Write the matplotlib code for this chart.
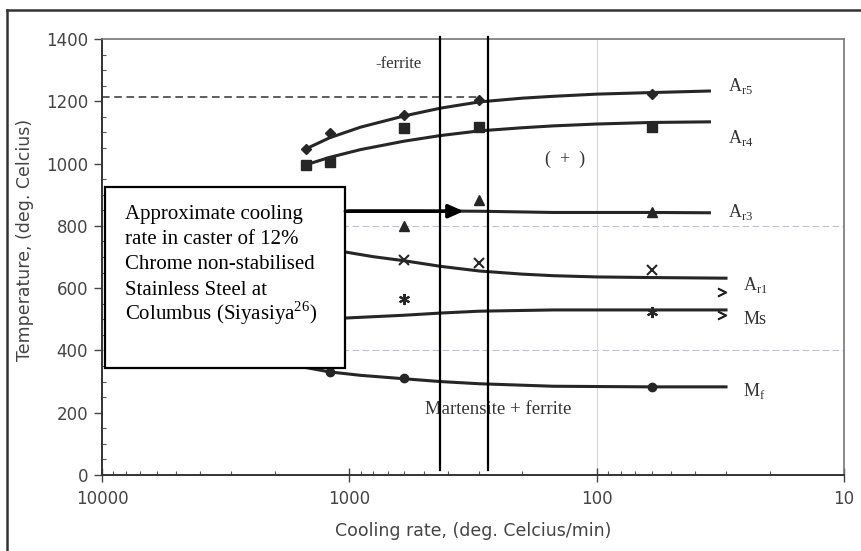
import matplotlib as mpl
mpl.use('Agg')
import matplotlib.pyplot as plt
import matplotlib.ticker as tk
from matplotlib.lines import Line2D
from matplotlib.patches import Rectangle

plt.rcParams['mathtext.fontset'] = 'custom'
plt.rcParams['mathtext.rm'] = 'Liberation Serif'

# transformation curves (cooling rate deg C/min -> temperature deg C)
ar5_rate = [1500, 1200, 900, 600, 428, 298, 200, 150, 100, 60, 35]
ar5_temp = [1047, 1083, 1117, 1153, 1178, 1198, 1210, 1216, 1223, 1228, 1233]
ar4_rate = [1500, 1200, 900, 600, 428, 298, 200, 150, 100, 60, 35]
ar4_temp = [996, 1020, 1045, 1072, 1090, 1105, 1115, 1121, 1127, 1132, 1134]
ar3_rate = [1000, 600, 300, 150, 60, 35]
ar3_temp = [848, 848, 847, 843, 843, 842]
ar1_rate = [1500, 1038, 800, 600, 428, 298, 200, 150, 100, 60, 30]
ar1_temp = [780, 716, 701, 688, 670, 655, 645, 640, 636, 634, 632]
ms_rate = [1500, 1038, 600, 428, 298, 150, 60, 30]
ms_temp = [498, 504, 513, 520, 526, 530, 530, 530]
mf_rate = [1500, 1200, 900, 600, 428, 298, 150, 60, 30]
mf_temp = [345, 331, 320, 309, 300, 293, 285, 283, 283]

# measured points
ar5_pts_rate = [1500, 1200, 600, 298, 60]
ar5_pts_temp = [1047, 1098, 1156, 1204, 1224]
ar4_pts_rate = [1500, 1200, 600, 298, 60]
ar4_pts_temp = [996, 1005, 1115, 1118, 1118]
ar3_pts_rate = [600, 298, 60]
ar3_pts_temp = [800, 883, 845]
ar1_pts_rate = [600, 298, 60]
ar1_pts_temp = [690, 680, 658]
ms_pts_rate = [600, 60]
ms_pts_temp = [565, 523]
mf_pts_rate = [1200, 600, 60]
mf_pts_temp = [331, 311, 283]
tail_rate = [31, 31]
tail_temp = [588, 515]

caster_rates = [428, 274]
delta_ferrite_temp = 1214
delta_ferrite_end = 298
arrow_start = 1038
arrow_end = 345
arrow_temp = 847

curve_labels = [r'A$_{\mathrm{r5}}$', r'A$_{\mathrm{r4}}$', r'A$_{\mathrm{r3}}$',
                r'A$_{\mathrm{r1}}$', 'Ms', r'M$_{\mathrm{f}}$']
label_rate = [29.5, 29.5, 29.5, 25.5, 25.5, 25.5]
label_temp = [1250, 1082, 843, 610, 500, 270]

box_lines = ['Approximate cooling', 'rate in caster of 12%', 'Chrome non-stabilised',
             'Stainless Steel at', 'Columbus (Siyasiya$^{\\mathrm{26}}$)']

fig = plt.figure(figsize=(8.61, 5.51), dpi=100)
ax = fig.add_axes([102/861, 76/551, 742/861, 436/551])

line_c = '#262626'
lw = 2.2
for r, t in [(ar5_rate, ar5_temp), (ar4_rate, ar4_temp), (ar3_rate, ar3_temp),
             (ar1_rate, ar1_temp), (ms_rate, ms_temp), (mf_rate, mf_temp)]:
    ax.plot(r, t, color=line_c, lw=lw, zorder=3, solid_joinstyle='round')

ax.plot(ar5_pts_rate, ar5_pts_temp, 'D', color=line_c, ms=5.5, zorder=4)
ax.plot(ar4_pts_rate, ar4_pts_temp, 's', color=line_c, ms=6.5, zorder=4)
ax.plot(ar3_pts_rate, ar3_pts_temp, '^', color=line_c, ms=7, zorder=4)
ax.plot(ar1_pts_rate, ar1_pts_temp, 'x', color=line_c, ms=7, mew=1.5, zorder=4)
ax.plot(ms_pts_rate, ms_pts_temp, marker=(6, 2, 0), ls='none', color=line_c, ms=8, mew=1.5, zorder=4)
ax.plot(mf_pts_rate, mf_pts_temp, 'o', color=line_c, ms=6, zorder=4)
ax.plot(tail_rate, tail_temp, marker='$>$', ls='none', color=line_c, ms=6, zorder=4)

# faint grid lines
for yv in [400, 800]:
    ax.axhline(yv, color='#b8bfd6', lw=0.8, ls=(0, (6, 3)), zorder=1)
ax.axvline(100, color='#d8d8d8', lw=0.8, zorder=1)

# delta ferrite dashed line
ax.plot([10000, delta_ferrite_end], [delta_ferrite_temp, delta_ferrite_temp],
        color='#333333', lw=1.1, ls=(0, (5, 3)), zorder=2)

# caster cooling rate limits
for xv in caster_rates:
    ax.plot([xv, xv], [16, 1407], color='black', lw=1.6, zorder=5, clip_on=False)

ax.set_xscale('log')
ax.set_xlim(10000, 10)
ax.set_ylim(0, 1400)
ax.yaxis.set_major_locator(tk.MultipleLocator(200))
ax.yaxis.set_minor_locator(tk.MultipleLocator(50))
ax.xaxis.set_major_locator(tk.LogLocator(base=10))
ax.xaxis.set_minor_locator(tk.LogLocator(base=10, subs=range(2, 10)))
ax.xaxis.set_minor_formatter(tk.NullFormatter())
ax.xaxis.set_major_formatter(tk.FuncFormatter(lambda v, p: '%d' % round(v)))

ax.tick_params(axis='y', which='major', direction='out', length=6, width=1, colors='#444444',
               labelsize=12, pad=4)
ax.tick_params(axis='y', which='minor', direction='in', length=3, width=0.8, colors='#555555')
ax.tick_params(axis='x', which='major', direction='inout', length=10, width=1, colors='#444444',
               labelsize=12, pad=6)
ax.tick_params(axis='x', which='minor', direction='in', length=3, width=0.8, colors='#555555')
for s in ['left', 'bottom']:
    ax.spines[s].set_color('#333333')
    ax.spines[s].set_linewidth(1.4)
for s in ['top', 'right']:
    ax.spines[s].set_color('#777777')
    ax.spines[s].set_linewidth(1.2)

ax.set_xlabel('Cooling rate, (deg. Celcius/min)', fontsize=12.5, color='#444444', labelpad=10)
ax.set_ylabel('Temperature, (deg. Celcius)', fontsize=12.5, color='#444444')
ax.yaxis.set_label_coords(-0.091, 0.54)

serif = 'Liberation Serif'
for s, rx, ty in zip(curve_labels, label_rate, label_temp):
    ax.text(rx, ty, s, family=serif, fontsize=13, color='#333333', va='center', ha='left')
ax.text(0.368, 0.943, '-ferrite', transform=ax.transAxes, family=serif, fontsize=12,
        color='#333333', va='center')
ax.text(0.624, 0.725, '(  +  )', transform=ax.transAxes, family=serif, fontsize=13,
        color='#333333', va='center', ha='center')
ax.text(0.534, 0.15, 'Martensite + ferrite', transform=ax.transAxes, family=serif, fontsize=13.5,
        color='#333333', va='center', ha='center')

# annotation box
ax.add_patch(Rectangle((0.004, 0.2454), 0.3235, 0.4152, transform=ax.transAxes,
                       facecolor='white', edgecolor='black', lw=1.6, zorder=6))
for i, s in enumerate(box_lines):
    ax.text(0.031, 0.587 - i * 0.0578, s, transform=ax.transAxes, family=serif, fontsize=15,
            va='baseline', ha='left', zorder=7)
ax.annotate('', xy=(arrow_end, arrow_temp), xytext=(arrow_start, arrow_temp),
            arrowprops=dict(arrowstyle='-|>,head_length=0.9,head_width=0.4',
                            color='black', lw=2.5, shrinkA=0, shrinkB=0), zorder=7)

# scanned page frame
fig.add_artist(Line2D([7/861, 7/861], [0, 541/551], color='#333333', lw=1.8))
fig.add_artist(Line2D([7/861, 1], [541/551, 541/551], color='#333333', lw=1.8))

plt.savefig('out.png', dpi=100)
